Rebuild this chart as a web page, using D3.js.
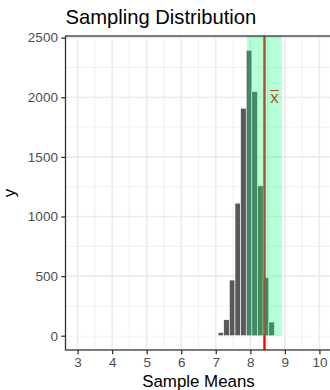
<!DOCTYPE html>
<html>
<head>
<meta charset="utf-8">
<script src="https://cdn.jsdelivr.net/npm/d3@7"></script>
<style>
  html, body { margin: 0; padding: 0; background: #fff; }
  svg { display: block; font-family: "Liberation Sans", Arial, sans-serif; }
</style>
</head>
<body>
<svg id="chart" width="330" height="390"></svg>
<script>
// Histogram of 10,000 sample means
const binStart = 7.067;
const binWidth = 0.163;
const binCounts = [27, 134, 467, 1112, 1908, 2394, 2048, 1257, 489, 115, 6];

// Sample mean and the highlighted interval around it
const sampleMean = 8.41;
const bandHalfWidth = 0.5;

// Axis settings
const xDomain = [2.65, 10.35];
const yDomain = [-119.7, 2513.7];
const xTicks = [3, 4, 5, 6, 7, 8, 9, 10];
const xMinor = [3.5, 4.5, 5.5, 6.5, 7.5, 8.5, 9.5];
const yTicks = [0, 500, 1000, 1500, 2000, 2500];
const yMinor = [250, 750, 1250, 1750, 2250];

const titleText = "Sampling Distribution";
const xTitle = "Sample Means";
const yTitle = "y";

const svg = d3.select("#chart");
const panel = { left: 65.5, top: 36, right: 331.5, bottom: 350 };

const x = d3.scaleLinear().domain(xDomain).range([panel.left, panel.right]);
const y = d3.scaleLinear().domain(yDomain).range([panel.bottom, panel.top]);

const bins = binCounts.map((c, i) => ({
  x0: binStart + i * binWidth,
  x1: binStart + (i + 1) * binWidth,
  count: c
}));

svg.append("defs").append("clipPath").attr("id", "panelClip")
  .append("rect")
  .attr("x", panel.left).attr("y", panel.top)
  .attr("width", panel.right - panel.left).attr("height", panel.bottom - panel.top);

const g = svg.append("g").attr("clip-path", "url(#panelClip)");

// panel background
g.append("rect")
  .attr("x", panel.left).attr("y", panel.top)
  .attr("width", panel.right - panel.left).attr("height", panel.bottom - panel.top)
  .attr("fill", "#fff");

// minor grid
g.selectAll(".xminor").data(xMinor).join("line")
  .attr("x1", d => x(d)).attr("x2", d => x(d))
  .attr("y1", panel.top).attr("y2", panel.bottom)
  .attr("stroke", "#EBEBEB").attr("stroke-width", 0.8);
g.selectAll(".yminor").data(yMinor).join("line")
  .attr("y1", d => y(d)).attr("y2", d => y(d))
  .attr("x1", panel.left).attr("x2", panel.right)
  .attr("stroke", "#EBEBEB").attr("stroke-width", 0.8);

// major grid
g.selectAll(".xmajor").data(xTicks).join("line")
  .attr("x1", d => x(d)).attr("x2", d => x(d))
  .attr("y1", panel.top).attr("y2", panel.bottom)
  .attr("stroke", "#EBEBEB").attr("stroke-width", 1.6);
g.selectAll(".ymajor").data(yTicks).join("line")
  .attr("y1", d => y(d)).attr("y2", d => y(d))
  .attr("x1", panel.left).attr("x2", panel.right)
  .attr("stroke", "#EBEBEB").attr("stroke-width", 1.6);

// empty bins along the baseline (white outline of zero-height bars)
g.append("line")
  .attr("x1", panel.left).attr("x2", panel.right)
  .attr("y1", y(0)).attr("y2", y(0))
  .attr("stroke", "#fff").attr("stroke-width", 1);

// histogram bars
g.selectAll(".bar").data(bins).join("rect")
  .attr("x", d => x(d.x0))
  .attr("width", d => x(d.x1) - x(d.x0))
  .attr("y", d => y(d.count))
  .attr("height", d => y(0) - y(d.count))
  .attr("fill", "#595959")
  .attr("stroke", "#fff")
  .attr("stroke-width", 0.6);

// vertical line at the sample mean
g.append("line")
  .attr("x1", x(sampleMean)).attr("x2", x(sampleMean))
  .attr("y1", panel.top).attr("y2", panel.bottom)
  .attr("stroke", "#FF0000").attr("stroke-width", 2.4);

// x-bar label
const lx = x(sampleMean + 0.29), ly = y(2000);
g.append("text")
  .attr("x", lx).attr("y", ly + 5.5)
  .attr("text-anchor", "middle")
  .attr("font-size", 17)
  .attr("fill", "#FF0000")
  .text("x");
g.append("line")
  .attr("x1", lx - 4.5).attr("x2", lx + 4.5)
  .attr("y1", ly - 6.8).attr("y2", ly - 6.8)
  .attr("stroke", "#FF0000").attr("stroke-width", 1.1);

// highlighted interval, drawn translucent over the bars
g.append("rect")
  .attr("x", x(sampleMean - bandHalfWidth))
  .attr("width", x(sampleMean + bandHalfWidth) - x(sampleMean - bandHalfWidth))
  .attr("y", panel.top)
  .attr("height", y(0) - panel.top)
  .attr("fill", "#00FF7F")
  .attr("fill-opacity", 0.3);

// panel border
svg.append("rect")
  .attr("x", panel.left).attr("y", panel.top)
  .attr("width", panel.right - panel.left).attr("height", panel.bottom - panel.top)
  .attr("fill", "none").attr("stroke", "#333333").attr("stroke-width", 1.3);

// axes
const xAxis = d3.axisBottom(x).tickValues(xTicks).tickSize(4.2).tickPadding(3.4).tickFormat(d3.format("d"));
const yAxis = d3.axisLeft(y).tickValues(yTicks).tickSize(4.2).tickPadding(3.4).tickFormat(d3.format("d"));

const gx = svg.append("g").attr("transform", `translate(0,${panel.bottom})`).call(xAxis);
const gy = svg.append("g").attr("transform", `translate(${panel.left},0)`).call(yAxis);
[gx, gy].forEach(a => {
  a.select(".domain").remove();
  a.selectAll(".tick line").attr("stroke", "#333333").attr("stroke-width", 1.3);
  a.selectAll(".tick text")
    .attr("fill", "#4D4D4D")
    .attr("font-size", 13.5)
    .attr("font-family", "Liberation Sans, Arial, sans-serif");
});

// titles
svg.append("text")
  .attr("x", panel.left).attr("y", 24)
  .attr("font-size", 20.2)
  .attr("fill", "#000")
  .text(titleText);

svg.append("text")
  .attr("x", (panel.left + panel.right) / 2).attr("y", 387)
  .attr("text-anchor", "middle")
  .attr("font-size", 16.9)
  .attr("fill", "#000")
  .text(xTitle);

svg.append("text")
  .attr("transform", `translate(15,${(panel.top + panel.bottom) / 2}) rotate(-90)`)
  .attr("text-anchor", "middle")
  .attr("font-size", 16.9)
  .attr("fill", "#000")
  .text(yTitle);
</script>
</body>
</html>
